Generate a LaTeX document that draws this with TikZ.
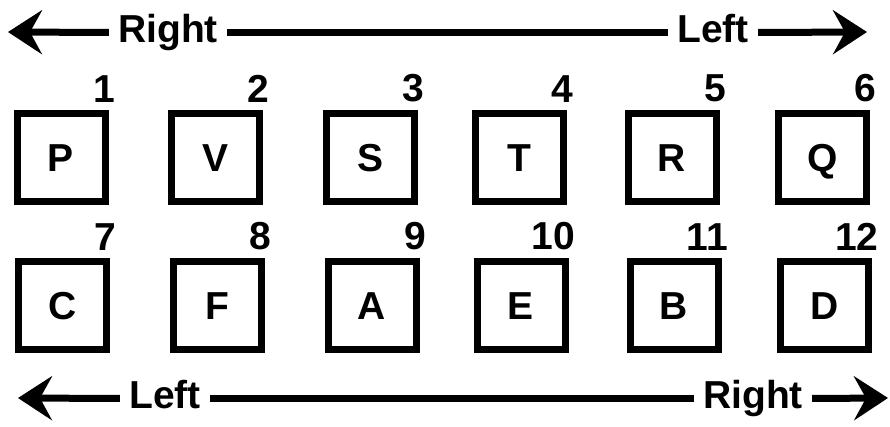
\documentclass[tikz,border=0pt]{standalone}
\usepackage{fontspec}
\setmainfont{Liberation Sans}
\usetikzlibrary{arrows.meta}

\begin{document}
\begin{tikzpicture}[x=0.5pt, y=-0.5pt,
  seat/.style={draw, line width=3.5pt, minimum size=44pt, inner sep=0pt, text height=14pt, text depth=0pt, font=\fontsize{19.5}{19.5}\selectfont\bfseries},
  seatno/.style={anchor=south east, inner sep=0pt, font=\fontsize{19.5}{19.5}\selectfont\bfseries},
  side/.style={anchor=base, inner ysep=0pt, inner xsep=4.5pt, text height=15pt, text depth=4.5pt, font=\fontsize{19.5}{19.5}\selectfont\bfseries},
  rail/.style={line width=3.5pt},
  railtip/.style={line width=3.5pt, arrows={-{Stealth[length=17pt, width=22pt, inset=6pt]}}}]
\useasboundingbox (0, 0) rectangle (890, 427);

% direction labels and rails
\node (rightA) [side] at (168, 43) {Right};
\node (leftA) [side] at (713, 43) {Left};
\node (leftB) [side] at (165, 409) {Left};
\node (rightB) [side] at (753, 409) {Right};
\coordinate (tipA1) at (8, 32);
\coordinate (tipA2) at (867, 32);
\coordinate (tipB1) at (18, 398);
\coordinate (tipB2) at (888, 398);

\draw [railtip] (rightA.west) -- (tipA1);
\draw [rail] (rightA.east) -- (leftA.west);
\draw [railtip] (leftA.east) -- (tipA2);
\draw [railtip] (leftB.west) -- (tipB1);
\draw [rail] (leftB.east) -- (rightB.west);
\draw [railtip] (rightB.east) -- (tipB2);

% first row
\node (p) [seat] at (61, 158) {P};
\node (v) [seat] at (215.5, 158) {V};
\node (s) [seat] at (370.5, 158) {S};
\node (t) [seat] at (519, 158) {T};
\node (r) [seat] at (672, 158) {R};
\node (q) [seat] at (822.5, 158) {Q};

% second row
\node (c) [seat] at (62.5, 306) {C};
\node (f) [seat] at (217.5, 306) {F};
\node (a) [seat] at (372, 306) {A};
\node (e) [seat] at (521, 306) {E};
\node (b) [seat] at (674, 306) {B};
\node (d) [seat] at (824.5, 306) {D};

% seat numbers
\node (n1) [seatno] at ([xshift=3.5pt, yshift=4pt]p.north east) {1};
\node (n2) [seatno] at ([xshift=3.5pt, yshift=4pt]v.north east) {2};
\node (n3) [seatno] at ([xshift=3.5pt, yshift=4pt]s.north east) {3};
\node (n4) [seatno] at ([xshift=3.5pt, yshift=4pt]t.north east) {4};
\node (n5) [seatno] at ([xshift=3.5pt, yshift=4pt]r.north east) {5};
\node (n6) [seatno] at ([xshift=3.5pt, yshift=4pt]q.north east) {6};
\node (n7) [seatno] at ([xshift=3.5pt, yshift=4pt]c.north east) {7};
\node (n8) [seatno] at ([xshift=3.5pt, yshift=4pt]f.north east) {8};
\node (n9) [seatno] at ([xshift=3.5pt, yshift=4pt]a.north east) {9};
\node (n10) [seatno] at ([xshift=3.5pt, yshift=4pt]e.north east) {10};
\node (n11) [seatno] at ([xshift=3.5pt, yshift=4pt]b.north east) {11};
\node (n12) [seatno] at ([xshift=3.5pt, yshift=4pt]d.north east) {12};
\end{tikzpicture}
\end{document}
